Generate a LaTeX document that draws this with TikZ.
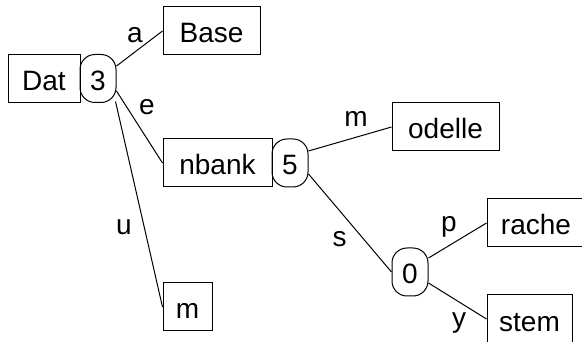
\documentclass[tikz,border=0pt]{standalone}
\usepackage{fontspec}
\setmainfont{Liberation Sans}
\begin{document}
\begin{tikzpicture}[x=1pt,y=-1pt,
  every node/.style={font=\fontsize{28}{32}\selectfont},
  box/.style={draw,line width=1pt,inner sep=0pt,minimum height=48pt,
    text height=24pt,text depth=0pt},
  knot/.style={box,minimum width=36pt,rounded corners=15pt},
  edge/.style={line width=1pt},
  lbl/.style={anchor=base,inner sep=0pt}]
\useasboundingbox (0,0) rectangle (582,342);
% keys and branch points
\node[box,minimum width=72pt]  (dat)    at (44,78.5)  {Dat};
\node[knot]                    (n3)     at (98,78.5)  {3};
\node[box,minimum width=97pt]  (base)   at (211.5,31) {Base};
\node[box,minimum width=109pt] (nbank)  at (217.5,163) {nbank};
\node[knot]                    (n5)     at (290,163)  {5};
\node[box,minimum width=107pt] (odelle) at (445.5,127) {odelle};
\node[knot]                    (n0)     at (410,272)  {0};
\node[box,minimum width=98pt]  (rache)  at (536,223)  {rache};
\node[box,minimum width=85pt]  (stem)   at (529.5,319) {stem};
\node[box,minimum width=49pt]  (mm)     at (187.5,307) {m};
% branches
\draw[edge] ([yshift=12.5pt]n3.east) -- (base.west);
\draw[edge] ([yshift=-12.5pt]n3.east) -- (nbank.west);
\draw[edge] ([shift={(-1pt,-23pt)}]n3.east) -- (mm.west);
\draw[edge] ([yshift=12pt]n5.east) -- (odelle.west);
\draw[edge] ([yshift=-11pt]n5.east) -- (n0.west);
\draw[edge] ([yshift=14pt]n0.east) -- (rache.west);
\draw[edge] ([yshift=-11pt]n0.east) -- (stem.west);
% branch letters
\node[lbl] (la) at (135,43)   {a};
\node[lbl] (le) at (147,115)  {e};
\node[lbl] (lu) at (124,235)  {u};
\node[lbl] (lm) at (356,127)  {m};
\node[lbl] (ls) at (339.5,247) {s};
\node[lbl] (lp) at (449,232)  {p};
\node[lbl] (ly) at (459,327)  {y};
\end{tikzpicture}
\end{document}
